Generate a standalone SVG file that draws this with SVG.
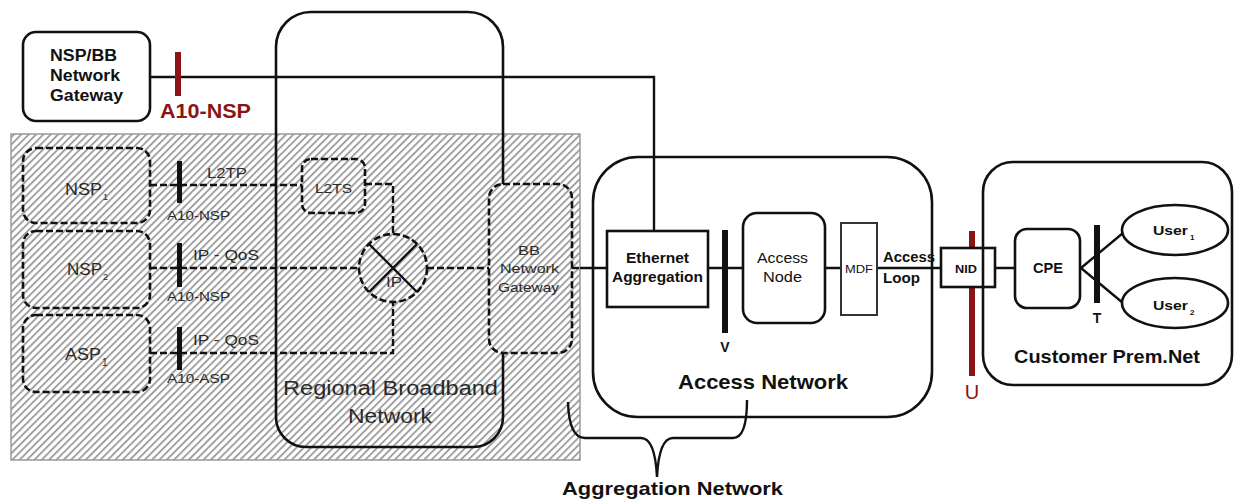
<svg xmlns="http://www.w3.org/2000/svg" width="1235" height="499" viewBox="0 0 1235 499">
<defs>
<pattern id="hatch" width="5.2" height="5.2" patternUnits="userSpaceOnUse" patternTransform="rotate(45)">
<line x1="1" y1="0" x2="1" y2="5.2" stroke="#9a9a9a" stroke-width="1.8"/>
</pattern>
</defs>
<style>
.t{font-family:"Liberation Sans",Arial,sans-serif;fill:#111}
.b{font-weight:bold}
.c{text-anchor:middle}
.g{fill:#2a2a2a}
.red{fill:#8b1414}
.box{fill:#fff;stroke:#111;stroke-width:2.6}
.obox{fill:none;stroke:#111;stroke-width:2.6}
.dbox{fill:none;stroke:#111;stroke-width:2.6;stroke-dasharray:7 3}
.ln{fill:none;stroke:#111;stroke-width:2.4}
.dl{fill:none;stroke:#111;stroke-width:2.4;stroke-dasharray:7 3}
.bar{fill:#111}
.rbar{fill:#8b1414}
</style>
<rect width="1235" height="499" fill="#fff"/>
<g id="hatched-area">
<rect x="11" y="134" width="569" height="326" fill="url(#hatch)" stroke="#9a9a9a" stroke-width="1.5"/>
</g>
<g id="connectors">
<path class="ln" d="M150,77 H654 V231"/>
<path class="dl" d="M150,185 H302"/>
<path class="dl" d="M365,184 H393 V234"/>
<path class="dl" d="M150,268 H359"/>
<path class="dl" d="M150,353 H393 V302"/>
<path class="dl" d="M427,268 H489"/>
<path class="dl" d="M572,268 H580"/>
<path class="ln" d="M580,268 H1015"/>
<path class="ln" d="M1081,268 L1123,233 M1081,268 L1123,303"/>
<path id="aggregation-brace" class="ln" d="M568,402 Q569,438 585,438 H641 Q655,438 657,477 Q659,438 673,438 H733 Q747,438 747,400"/>
</g>
<g id="regional-broadband-network">
<path class="obox" d="M503,184 V47 A35,35 0 0 0 468,12 H311 A35,35 0 0 0 276,47 V417 A30,30 0 0 0 306,447 H473 A30,30 0 0 0 503,417 V353"/>
<text class="t g" x="283" y="395" font-size="20" textLength="215" lengthAdjust="spacingAndGlyphs">Regional Broadband</text>
<text class="t g" x="348" y="423" font-size="20" textLength="84" lengthAdjust="spacingAndGlyphs">Network</text>
</g>
<g id="nsp-bb-gateway">
<rect class="box" x="23" y="32" width="127" height="89" rx="13"/>
<text class="t b" x="50" y="61" font-size="16" textLength="67" lengthAdjust="spacingAndGlyphs">NSP/BB</text>
<text class="t b" x="50" y="81" font-size="16" textLength="70" lengthAdjust="spacingAndGlyphs">Network</text>
<text class="t b" x="50" y="101" font-size="16" textLength="73" lengthAdjust="spacingAndGlyphs">Gateway</text>
</g>
<g id="a10-nsp-ref">
<rect class="rbar" x="175" y="52" width="6" height="44"/>
<text class="t b red" x="160" y="118" font-size="20" textLength="91" lengthAdjust="spacingAndGlyphs">A10-NSP</text>
</g>
<g id="nsp1">
<rect class="dbox" x="23" y="148" width="127" height="75" rx="13"/>
<text class="t g" x="65" y="195" font-size="16" textLength="37" lengthAdjust="spacingAndGlyphs">NSP</text>
<text class="t g" x="103" y="200" font-size="9">1</text>
</g>
<g id="nsp2">
<rect class="dbox" x="23" y="231" width="127" height="77" rx="13"/>
<text class="t g" x="67" y="275" font-size="16" textLength="35" lengthAdjust="spacingAndGlyphs">NSP</text>
<text class="t g" x="103" y="280" font-size="9">2</text>
</g>
<g id="asp1">
<rect class="dbox" x="23" y="315" width="127" height="77" rx="13"/>
<text class="t g" x="65" y="360" font-size="16" textLength="36" lengthAdjust="spacingAndGlyphs">ASP</text>
<text class="t g" x="102" y="366" font-size="10">1</text>
</g>
<g id="a10-refs">
<rect class="bar" x="177" y="161" width="5" height="42"/>
<rect class="bar" x="177" y="243" width="5" height="44"/>
<rect class="bar" x="177" y="327" width="5" height="43"/>
<text class="t g" x="207" y="178" font-size="14" textLength="40" lengthAdjust="spacingAndGlyphs">L2TP</text>
<text class="t g" x="167" y="220" font-size="13" textLength="63" lengthAdjust="spacingAndGlyphs">A10-NSP</text>
<text class="t g" x="193" y="260" font-size="15" textLength="66" lengthAdjust="spacingAndGlyphs">IP - QoS</text>
<text class="t g" x="167" y="301" font-size="13" textLength="63" lengthAdjust="spacingAndGlyphs">A10-NSP</text>
<text class="t g" x="193" y="345" font-size="15" textLength="66" lengthAdjust="spacingAndGlyphs">IP - QoS</text>
<text class="t g" x="167" y="383" font-size="13" textLength="63" lengthAdjust="spacingAndGlyphs">A10-ASP</text>
</g>
<g id="l2ts">
<rect class="dbox" x="302" y="159" width="63" height="54" rx="9"/>
<text class="t g" x="315" y="193" font-size="13" textLength="37" lengthAdjust="spacingAndGlyphs">L2TS</text>
</g>
<g id="ip-router">
<circle class="dbox" cx="393" cy="268" r="34"/>
<path class="ln" d="M369,244 L417,292 M369,292 L417,244"/>
<text class="t g" x="386" y="287" font-size="14" textLength="16" lengthAdjust="spacingAndGlyphs">IP</text>
</g>
<g id="bb-network-gateway">
<rect class="dbox" x="489" y="184" width="83" height="169" rx="14"/>
<text class="t g" x="518" y="255" font-size="13" textLength="22" lengthAdjust="spacingAndGlyphs">BB</text>
<text class="t g" x="500" y="273" font-size="13" textLength="59" lengthAdjust="spacingAndGlyphs">Network</text>
<text class="t g" x="498" y="292" font-size="13" textLength="61" lengthAdjust="spacingAndGlyphs">Gateway</text>
</g>
<g id="access-network">
<rect class="obox" x="593" y="157" width="339" height="260" rx="45"/>
<text class="t b" x="678" y="389" font-size="21" textLength="170" lengthAdjust="spacingAndGlyphs">Access Network</text>
</g>
<g id="ethernet-aggregation">
<rect class="box" x="607" y="231" width="101" height="76"/>
<text class="t b" x="626" y="263" font-size="14" textLength="63" lengthAdjust="spacingAndGlyphs">Ethernet</text>
<text class="t b" x="612" y="282" font-size="14" textLength="91" lengthAdjust="spacingAndGlyphs">Aggregation</text>
</g>
<g id="v-ref">
<rect class="bar" x="722" y="230" width="6" height="103"/>
<text class="t b c" x="725" y="352" font-size="14">V</text>
</g>
<g id="access-node">
<rect class="box" x="743" y="213" width="82" height="110" rx="14"/>
<text class="t" x="757" y="263" font-size="14" textLength="51" lengthAdjust="spacingAndGlyphs">Access</text>
<text class="t" x="763" y="282" font-size="14" textLength="39" lengthAdjust="spacingAndGlyphs">Node</text>
</g>
<g id="mdf">
<rect x="841" y="223" width="36" height="92" fill="#fff" stroke="#333" stroke-width="2"/>
<text class="t" x="845" y="273" font-size="10" textLength="28" lengthAdjust="spacingAndGlyphs">MDF</text>
</g>
<g id="access-loop-label">
<text class="t b" x="883" y="262" font-size="14" textLength="52" lengthAdjust="spacingAndGlyphs">Access</text>
<text class="t b" x="883" y="283" font-size="14" textLength="37" lengthAdjust="spacingAndGlyphs">Loop</text>
</g>
<g id="u-ref">
<rect class="rbar" x="969" y="231" width="6" height="145"/>
<text class="t red c" x="972" y="399" font-size="20">U</text>
</g>
<g id="nid">
<rect class="box" x="941" y="248" width="54" height="39"/>
<text class="t b" x="955" y="273" font-size="10" textLength="22" lengthAdjust="spacingAndGlyphs">NID</text>
</g>
<g id="customer-prem-net">
<rect class="obox" x="983" y="162" width="249" height="223" rx="30"/>
<text class="t b" x="1014" y="363" font-size="18" textLength="186" lengthAdjust="spacingAndGlyphs">Customer Prem.Net</text>
</g>
<g id="cpe">
<rect class="box" x="1015" y="229" width="65" height="79" rx="12"/>
<text class="t b" x="1033" y="273" font-size="15" textLength="30" lengthAdjust="spacingAndGlyphs">CPE</text>
</g>
<g id="t-ref">
<rect class="bar" x="1094" y="225" width="6" height="78"/>
<text class="t b c" x="1097" y="323" font-size="14">T</text>
</g>
<g id="user1">
<ellipse class="box" cx="1175" cy="230" rx="53" ry="25"/>
<text class="t b" x="1153" y="235" font-size="13" textLength="35" lengthAdjust="spacingAndGlyphs">User</text>
<text class="t b" x="1190" y="240" font-size="8">1</text>
</g>
<g id="user2">
<ellipse class="box" cx="1175" cy="303" rx="53" ry="25"/>
<text class="t b" x="1153" y="310" font-size="13" textLength="35" lengthAdjust="spacingAndGlyphs">User</text>
<text class="t b" x="1190" y="315" font-size="8">2</text>
</g>
<g id="aggregation-network-label">
<text class="t b" x="562" y="495" font-size="19" textLength="221" lengthAdjust="spacingAndGlyphs">Aggregation Network</text>
</g>
</svg>
